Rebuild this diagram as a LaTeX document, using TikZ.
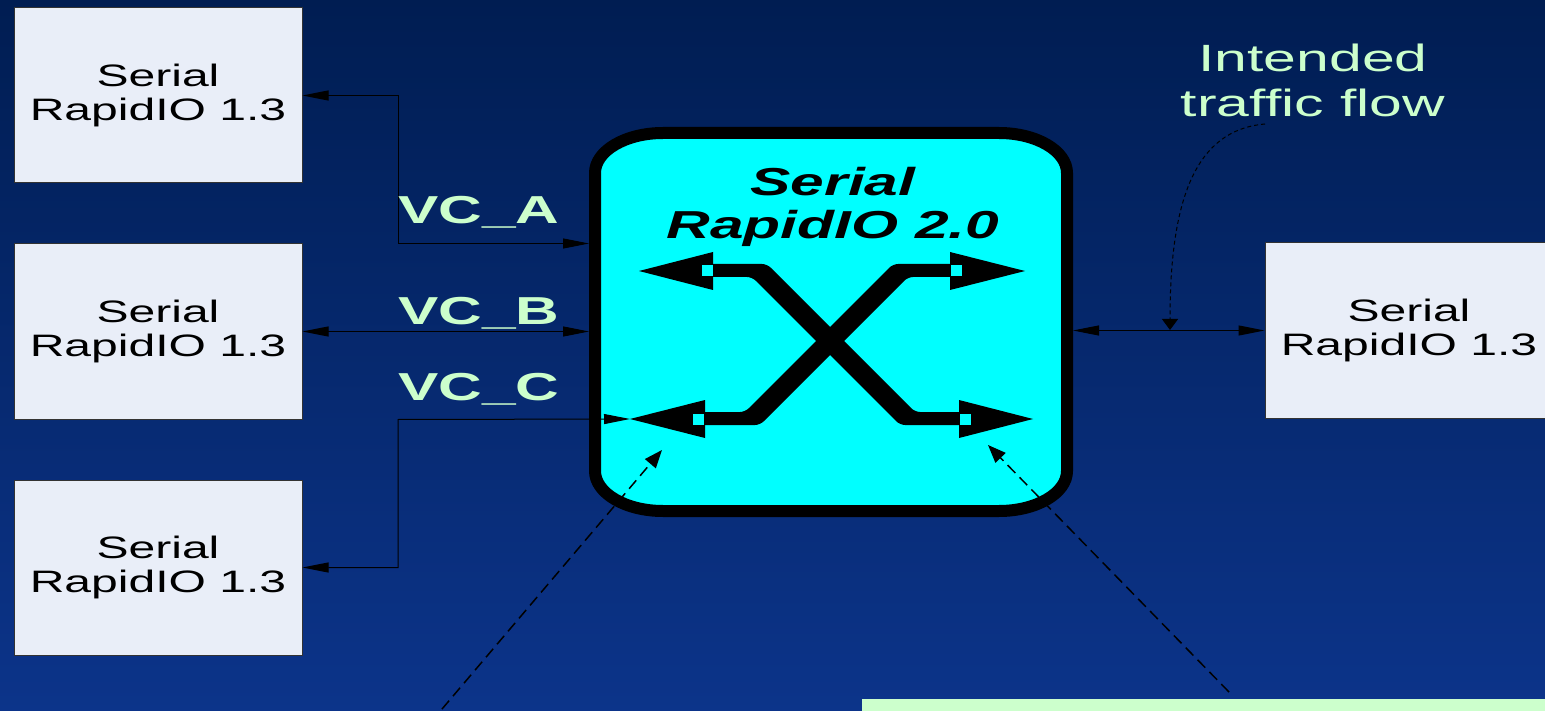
\documentclass[tikz,border=0pt]{standalone}
\usepackage{fontspec}
\usepackage{tikz}
\usetikzlibrary{arrows.meta,positioning}
\newfontfamily\srfont[FakeStretch=1.55]{Liberation Sans}
\definecolor{bgtop}{RGB}{0,29,82}
\definecolor{bgbot}{RGB}{12,52,138}
\definecolor{boxfill}{RGB}{233,238,248}
\definecolor{mint}{RGB}{204,255,204}
\definecolor{swcyan}{RGB}{0,255,255}

\begin{document}
\begin{tikzpicture}[x=1pt,y=-1pt,
srbox/.style={draw=black!80,line width=1pt,fill=boxfill,minimum width=288pt,minimum height=175pt,align=center,font=\srfont\fontsize{31}{34}\selectfont},
vclbl/.style={anchor=base west,inner sep=0pt,text=mint,font=\srfont\bfseries\fontsize{39}{40}\selectfont},
link/.style={line width=1pt,{Triangle[length=26pt,width=10pt]}-{Triangle[length=26pt,width=10pt]}},
plug/.style={fill=swcyan,inner sep=0pt,minimum size=11pt},
hint/.style={dash pattern=on 11pt off 6pt,line width=1.5pt,-{Triangle[length=18pt,width=14pt]}}]
\useasboundingbox(0,0)rectangle(1545,711);
\shade[top color=bgtop,bottom color=bgbot](0,0)rectangle(1545,711);
\clip(0,0)rectangle(1545,711);
\draw[line width=12pt,fill=swcyan](595,173)arc[start angle=180,end angle=90,x radius=68pt,y radius=40pt]--(999,133)
arc[start angle=90,end angle=0,x radius=68pt,y radius=40pt]--(1067,471)
arc[start angle=0,end angle=-90,x radius=68pt,y radius=40pt]--(663,511)
arc[start angle=270,end angle=180,x radius=68pt,y radius=40pt]--cycle;
\node[minimum width=484pt,minimum height=390pt,inner sep=0pt,outer sep=0pt](sw)at(831,322){};
\node[align=center,font=\srfont\bfseries\itshape\fontsize{39}{43}\selectfont](swlbl)at(833,207){Serial\\RapidIO 2.0};
\fill[rounded corners=5pt](705,264)--(767,264)--(915,412)--(967,412)--(967,425)--(900,425)--(752,277)--(705,277)--cycle;
\fill[rounded corners=5pt](955,264)--(893,264)--(745,412)--(693,412)--(693,425)--(760,425)--(908,277)--(955,277)--cycle;
\coordinate(xbl)at(630,419);
\fill(713,252)--(639,271)--(713,290)--cycle;
\fill(950,252)--(1025,271)--(950,290)--cycle;
\fill(705,400)--(xbl)--(705,438)--cycle;
\fill(959,400)--(1033,419)--(959,438)--cycle;
\node[plug]at(707.5,271){};
\node[plug]at(956.5,271){};
\node[plug]at(698.5,419){};
\node[plug]at(965.5,419){};
\node[srbox](src1)at(158,95.5){Serial\\RapidIO 1.3};
\node[srbox,below=60pt of src1](src2){Serial\\RapidIO 1.3};
\node[srbox,below=60pt of src2](src3){Serial\\RapidIO 1.3};
\node[srbox](dst)at(1409,330.5){Serial\\RapidIO 1.3};
\coordinate(bus)at(398,0);
\draw[link](src1.east)--(bus|-src1.east)--(bus|-src2.north)--(sw.west|-src2.north);
\draw[link](src2.east)--(sw.west|-src2.east);
\draw[link](src3.east)--(bus|-src3.east)--(bus|-src2.south)--(xbl);
\draw[link](sw.east|-dst.west)--(dst.west);
\node[vclbl](vca)at(398,224){VC\_A};
\node[vclbl](vcb)at(398,325){VC\_B};
\node[vclbl](vcc)at(398,400){VC\_C};
\node[align=center,text=mint,font=\srfont\fontsize{38}{45}\selectfont](flowlbl)at(1313,80){Intended\\traffic flow};
\coordinate(flowtop)at(1265,124);
\coordinate(flowpt)at(1170,330);
\draw[line width=1pt,dash pattern=on 4pt off 3pt,-{Triangle[length=11pt,width=16pt]}](flowtop)..controls(1195,130)and(1170,200)..(flowpt);
\node[fill=mint,minimum width=700pt,minimum height=40pt,inner sep=0pt,anchor=north west](note)at(862,699){};
\coordinate(notel)at(431,722);
\coordinate(noter)at(1229,692);
\coordinate(hintl)at(662,450);
\coordinate(hintr)at(988,445);
\draw[hint](notel)--(hintl);
\draw[hint](noter)--(hintr);
\end{tikzpicture}
\end{document}
